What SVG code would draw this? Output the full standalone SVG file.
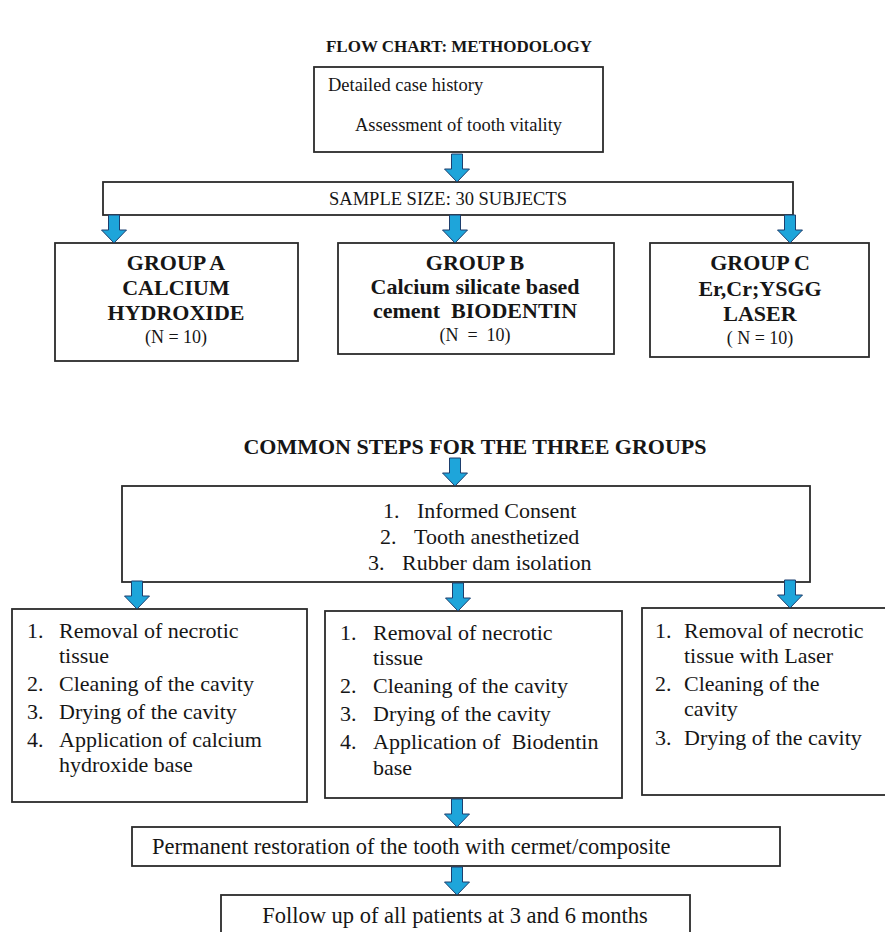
<svg xmlns="http://www.w3.org/2000/svg" xmlns:xlink="http://www.w3.org/1999/xlink" width="885" height="932" viewBox="0 0 885 932">
<defs>
<style>
.box{fill:#fff;stroke:#2b2b2b;stroke-width:1.8}
.t{font-family:"Liberation Serif","Times New Roman",serif;fill:#161616}
.b{font-weight:bold}
.s18{font-size:18.5px}
.s22{font-size:22px}
.c{text-anchor:middle}
.pre{white-space:pre}
.arr{fill:#1ea5da;stroke:#1d3f6e;stroke-width:1}
</style>
<path id="arrow" d="M-5.5,0 H5.5 V15 H12.5 L0,28 L-12.5,15 H-5.5 Z"/>
</defs>
<rect width="885" height="932" fill="#fff"/>

<g id="title1">
<text class="t b c" x="459" y="52" font-size="17">FLOW CHART: METHODOLOGY</text>
</g>

<g id="history">
<rect class="box" x="314" y="67" width="289" height="85"/>
<text class="t s18" x="328" y="91">Detailed case history</text>
<text class="t s18" x="355" y="131">Assessment of tooth vitality</text>
</g>

<g id="sample">
<rect class="box" x="103" y="182" width="690" height="33"/>
<text class="t s18 c" x="448" y="205">SAMPLE SIZE: 30 SUBJECTS</text>
</g>

<g id="groupA">
<rect class="box" x="55" y="243" width="243" height="118"/>
<text class="t b s22 c" x="176" y="270">GROUP A</text>
<text class="t b s22 c" x="176" y="295">CALCIUM</text>
<text class="t b s22 c" x="176" y="320">HYDROXIDE</text>
<text class="t c" x="176" y="343" font-size="18">(N = 10)</text>
</g>

<g id="groupB">
<rect class="box" x="338" y="243" width="276" height="111"/>
<text class="t b s22 c" x="475" y="270">GROUP B</text>
<text class="t b s22 c" x="475" y="294">Calcium silicate based</text>
<text class="t b s22 c pre" x="475" y="318">cement  BIODENTIN</text>
<text class="t c pre" x="475" y="341" font-size="18">(N  =  10)</text>
</g>

<g id="groupC">
<rect class="box" x="650" y="243" width="219" height="114"/>
<text class="t b s22 c" x="760" y="270">GROUP C</text>
<text class="t b s22 c" x="760" y="296">Er,Cr;YSGG</text>
<text class="t b s22 c" x="760" y="321">LASER</text>
<text class="t c" x="760" y="344" font-size="18">( N = 10)</text>
</g>

<g id="title2">
<text class="t b s22 c" x="475" y="454">COMMON STEPS FOR THE THREE GROUPS</text>
</g>

<g id="common">
<rect class="box" x="122" y="486" width="688" height="96"/>
<text class="t s22" x="383" y="518">1.</text>
<text class="t s22" x="417" y="518">Informed Consent</text>
<text class="t s22" x="380" y="544">2.</text>
<text class="t s22" x="414" y="544">Tooth anesthetized</text>
<text class="t s22" x="368" y="570">3.</text>
<text class="t s22" x="402" y="570">Rubber dam isolation</text>
</g>

<g id="stepsA">
<rect class="box" x="12" y="609" width="295" height="193"/>
<text class="t s22" x="27" y="638">1.</text>
<text class="t s22" x="59" y="638">Removal of necrotic</text>
<text class="t s22" x="59" y="663">tissue</text>
<text class="t s22" x="27" y="691">2.</text>
<text class="t s22" x="59" y="691">Cleaning of the cavity</text>
<text class="t s22" x="27" y="719">3.</text>
<text class="t s22" x="59" y="719">Drying of the cavity</text>
<text class="t s22" x="27" y="747">4.</text>
<text class="t s22" x="59" y="747">Application of calcium</text>
<text class="t s22" x="59" y="772">hydroxide base</text>
</g>

<g id="stepsB">
<rect class="box" x="325" y="611" width="297" height="187"/>
<text class="t s22" x="340" y="640">1.</text>
<text class="t s22" x="373" y="640">Removal of necrotic</text>
<text class="t s22" x="373" y="665">tissue</text>
<text class="t s22" x="340" y="693">2.</text>
<text class="t s22" x="373" y="693">Cleaning of the cavity</text>
<text class="t s22" x="340" y="721">3.</text>
<text class="t s22" x="373" y="721">Drying of the cavity</text>
<text class="t s22" x="340" y="749">4.</text>
<text class="t s22 pre" x="373" y="749">Application of  Biodentin</text>
<text class="t s22" x="373" y="775">base</text>
</g>

<g id="stepsC">
<rect class="box" x="642" y="608" width="250" height="187"/>
<text class="t s22" x="655" y="638">1.</text>
<text class="t s22" x="684" y="638">Removal of necrotic</text>
<text class="t s22" x="684" y="663">tissue with Laser</text>
<text class="t s22" x="655" y="691">2.</text>
<text class="t s22" x="684" y="691">Cleaning of the</text>
<text class="t s22" x="684" y="716">cavity</text>
<text class="t s22" x="655" y="745">3.</text>
<text class="t s22" x="684" y="745">Drying of the cavity</text>
</g>

<g id="restoration">
<rect class="box" x="132" y="827" width="648" height="39"/>
<text class="t" x="152" y="854" font-size="22.5">Permanent restoration of the tooth with cermet/composite</text>
</g>

<g id="followup">
<rect class="box" x="221" y="895" width="469" height="50"/>
<text class="t c" x="455" y="923" font-size="22.5">Follow up of all patients at 3 and 6 months</text>
</g>

<g id="connectors" class="arr">
<use xlink:href="#arrow" transform="translate(457,154)"/>
<use xlink:href="#arrow" transform="translate(114,215)"/>
<use xlink:href="#arrow" transform="translate(455,215)"/>
<use xlink:href="#arrow" transform="translate(790,215)"/>
<use xlink:href="#arrow" transform="translate(455,458)"/>
<use xlink:href="#arrow" transform="translate(137,581)"/>
<use xlink:href="#arrow" transform="translate(458,583)"/>
<use xlink:href="#arrow" transform="translate(790,580)"/>
<use xlink:href="#arrow" transform="translate(457,799)"/>
<use xlink:href="#arrow" transform="translate(457,867)"/>
</g>
</svg>
